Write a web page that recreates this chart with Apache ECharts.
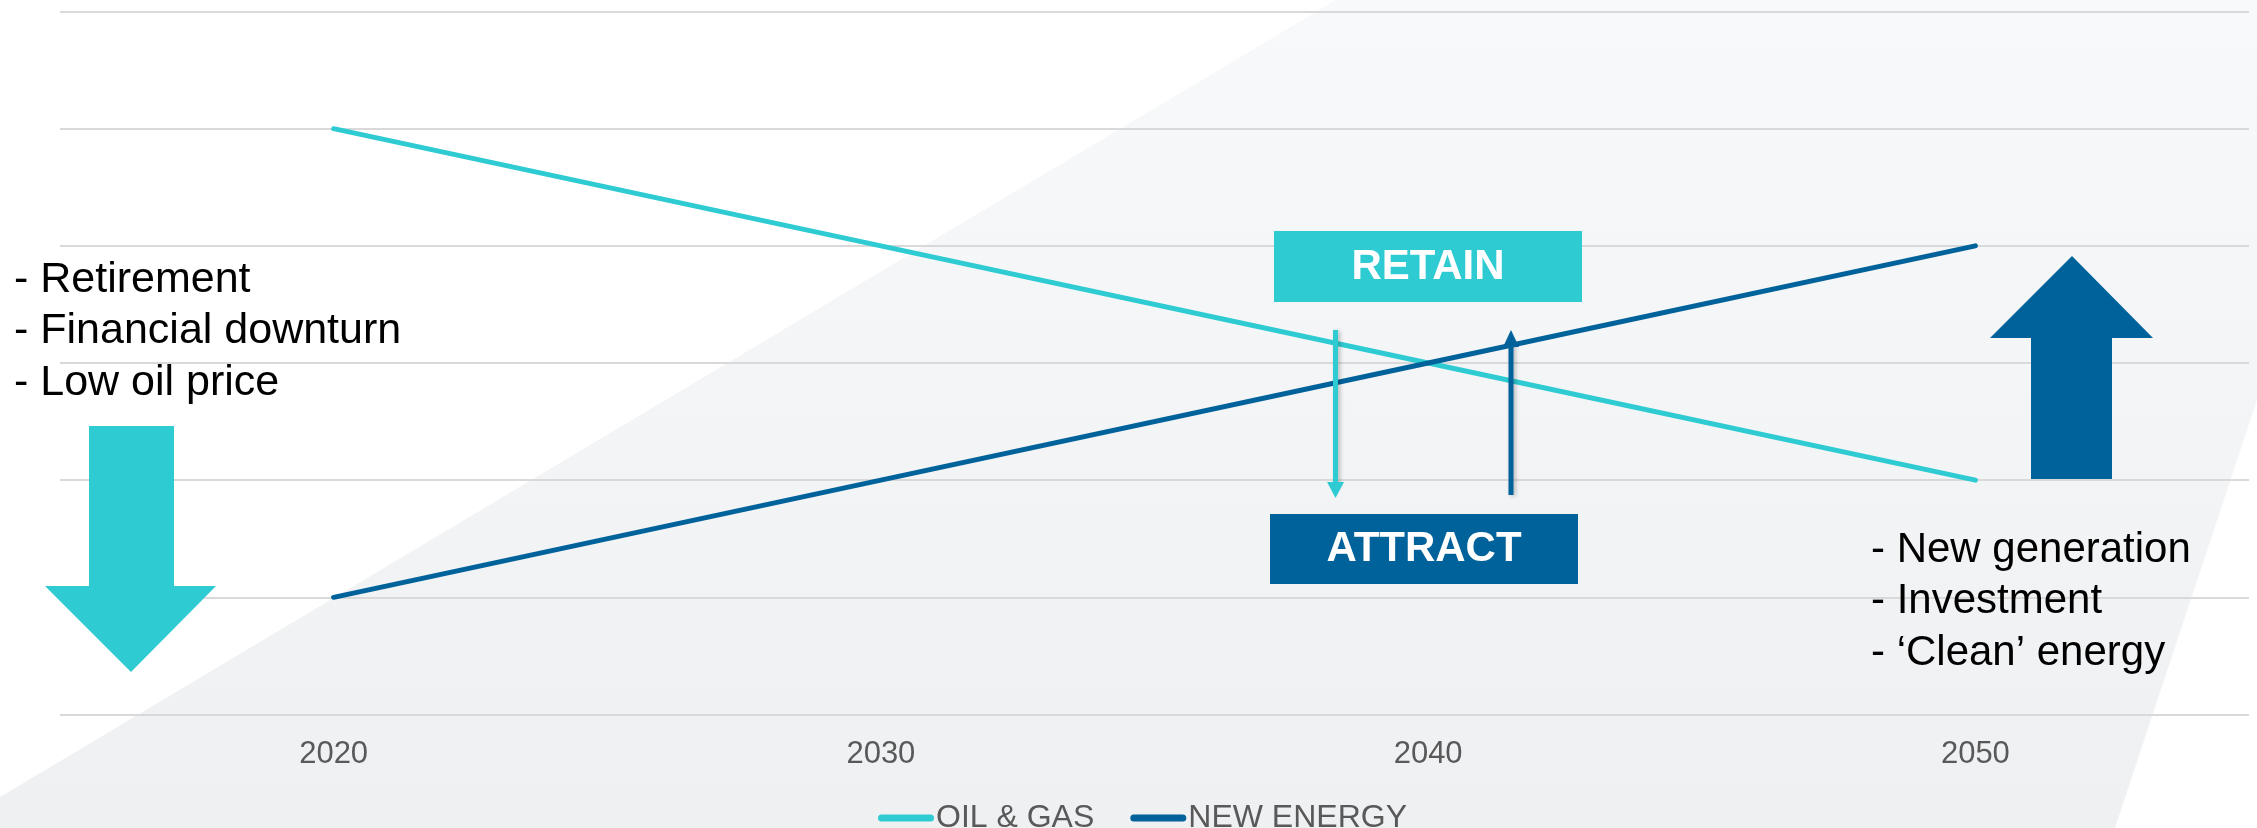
<!DOCTYPE html>
<html>
<head>
<meta charset="utf-8">
<script src="https://cdn.jsdelivr.net/npm/echarts@6.0.0/dist/echarts.min.js"></script>
<style>
    body { margin: 0; background: #fff; }
    #main { width: 2257px; height: 828px; }
</style>
</head>
<body>
<div id="main"></div>
<script>
    // chart data
    const years = ['2020', '2030', '2040', '2050'];
    const oilGas = [5, 4, 3, 2];
    const newEnergy = [1, 2, 3, 4];
    const seriesNames = ['OIL & GAS', 'NEW ENERGY'];

    // side notes
    const leftNotes = ['- Retirement', '- Financial downturn', '- Low oil price'];
    const rightNotes = ['- New generation', '- Investment', '- \u2018Clean\u2019 energy'];

    const cyan = '#2ecbd2';
    const navy = '#00629b';
    const font = 'Liberation Sans, Arial, sans-serif';

    const chart = echarts.init(document.getElementById('main'));

    const arrowShadow = { shadowColor: 'rgba(0,0,0,0.25)', shadowBlur: 4, shadowOffsetX: 2, shadowOffsetY: 1 };

    const graphics = [
        // light grey slanted backdrop
        {
            type: 'polygon',
            z: -10,
            silent: true,
            shape: { points: [[1336, 0], [2257, 0], [2257, 400], [2115, 828], [0, 828], [0, 797]] },
            style: {
                fill: new echarts.graphic.LinearGradient(0, 0, 0, 1, [
                    { offset: 0, color: '#f8f9fa' },
                    { offset: 1, color: '#eff0f2' }
                ])
            }
        },
        // big down arrow (left)
        {
            type: 'polygon',
            z: 5,
            shape: { points: [[89, 426], [174, 426], [174, 586], [216, 586], [131, 672], [45, 586], [89, 586]] },
            style: { fill: cyan }
        },
        // big up arrow (right)
        {
            type: 'polygon',
            z: 5,
            shape: { points: [[2031, 479], [2031, 338], [1990, 338], [2072, 256], [2153, 338], [2112, 338], [2112, 479]] },
            style: { fill: navy }
        },
        // RETAIN box
        {
            type: 'rect',
            z: 5,
            shape: { x: 1274, y: 231, width: 308, height: 71 },
            style: { fill: cyan }
        },
        {
            type: 'text',
            z: 6,
            style: { x: 1428, y: 267, text: 'RETAIN', fill: '#fff', font: 'bold 42px ' + font, textAlign: 'center', textVerticalAlign: 'middle' }
        },
        // ATTRACT box
        {
            type: 'rect',
            z: 5,
            shape: { x: 1270, y: 514, width: 308, height: 70 },
            style: { fill: navy }
        },
        {
            type: 'text',
            z: 6,
            style: { x: 1424, y: 549, text: 'ATTRACT', fill: '#fff', font: 'bold 42px ' + font, textAlign: 'center', textVerticalAlign: 'middle' }
        },
        // thin arrows
        {
            type: 'line',
            z: 10,
            shape: { x1: 1335.5, y1: 330, x2: 1335.5, y2: 486 },
            style: Object.assign({ stroke: cyan, lineWidth: 5 }, arrowShadow)
        },
        {
            type: 'polygon',
            z: 10,
            shape: { points: [[1327, 482], [1344, 482], [1335.5, 498]] },
            style: { fill: cyan }
        },
        {
            type: 'line',
            z: 10,
            shape: { x1: 1511, y1: 495, x2: 1511, y2: 342 },
            style: Object.assign({ stroke: navy, lineWidth: 5 }, arrowShadow)
        },
        {
            type: 'polygon',
            z: 10,
            shape: { points: [[1503, 347], [1519, 347], [1511, 330]] },
            style: { fill: navy }
        }
    ];

    leftNotes.forEach((t, i) => {
        graphics.push({
            type: 'text',
            z: 6,
            style: { x: 14, y: 280 + i * 51.5, text: t, fill: '#000', font: '43px ' + font, textVerticalAlign: 'middle' }
        });
    });
    rightNotes.forEach((t, i) => {
        graphics.push({
            type: 'text',
            z: 6,
            style: { x: 1871, y: 550 + i * 51.5, text: t, fill: '#000', font: '42px ' + font, textVerticalAlign: 'middle' }
        });
    });

    const option = {
        animation: false,
        backgroundColor: '#fff',
        color: [cyan, navy],
        grid: { left: 60, right: 8, top: 11.5, bottom: 113.5 },
        legend: {
            data: seriesNames,
            left: 873,
            top: 797,
            itemWidth: 56,
            itemHeight: 7,
            itemGap: 36,
            icon: 'path://M3.5,0 H52.5 A3.5,3.5 0 0 1 52.5,7 H3.5 A3.5,3.5 0 0 1 3.5,0 Z',
            textStyle: { color: '#595959', fontSize: 32, fontFamily: font, padding: [0, 0, 0, -3] }
        },
        xAxis: {
            type: 'category',
            data: years,
            boundaryGap: true,
            axisLine: { show: false },
            axisTick: { show: false },
            axisLabel: { color: '#595959', fontSize: 31, fontFamily: font, margin: 24 }
        },
        yAxis: {
            type: 'value',
            min: 0,
            max: 6,
            interval: 1,
            axisLabel: { show: false },
            axisLine: { show: false },
            axisTick: { show: false },
            splitLine: { lineStyle: { color: '#d9d9d9', width: 2 } }
        },
        series: [
            {
                name: seriesNames[0],
                type: 'line',
                data: oilGas,
                showSymbol: false,
                symbol: 'none',
                lineStyle: { width: 5, cap: 'round' }
            },
            {
                name: seriesNames[1],
                type: 'line',
                data: newEnergy,
                showSymbol: false,
                symbol: 'none',
                lineStyle: { width: 5, cap: 'round' }
            }
        ],
        graphic: graphics
    };

    chart.setOption(option);
</script>
</body>
</html>
